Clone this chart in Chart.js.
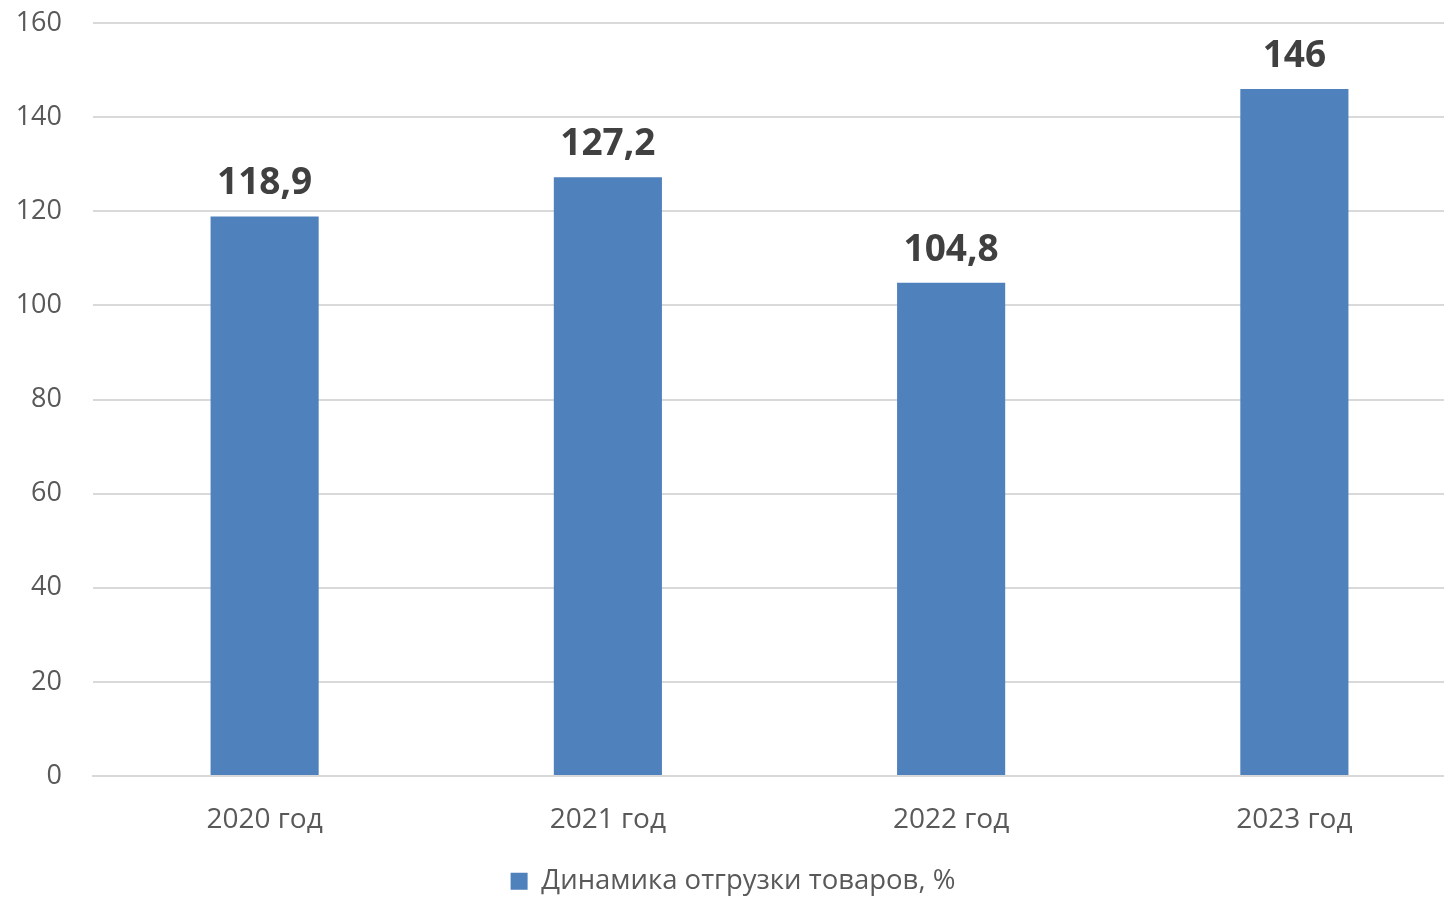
<!DOCTYPE html>
<html>
<head>
<meta charset="utf-8">
<script src="https://cdn.jsdelivr.net/npm/chart.js@4"></script>
<style>
  html, body { margin: 0; padding: 0; background: #fff; overflow: hidden; }
  /* the original plot runs past the right and bottom edges, so the canvas is a bit larger than the window */
  #wrap { width: 1466px; height: 910px; }
</style>
</head>
<body>
<div id="wrap"><canvas id="chart"></canvas></div>
<script>
// data
const categories = ["2020 год", "2021 год", "2022 год", "2023 год"];
const shipmentValues = [118.9, 127.2, 104.8, 146];
const valueLabels = ["118,9", "127,2", "104,8", "146"];
const seriesName = "Динамика отгрузки товаров, %";

const fontName = "'Open Sans', 'Noto Sans', sans-serif";

// bold numbers above each bar
const barLabels = {
  id: "barLabels",
  afterDatasetsDraw(chart) {
    const ctx = chart.ctx;
    const meta = chart.getDatasetMeta(0);
    ctx.save();
    ctx.font = "bold 37px " + fontName;
    ctx.fillStyle = "#404040";
    ctx.textAlign = "center";
    ctx.textBaseline = "bottom";
    meta.data.forEach((bar, i) => {
      ctx.fillText(valueLabels[i], bar.x, bar.y - 14);
    });
    ctx.restore();
  }
};

const ctx = document.getElementById("chart").getContext("2d");
new Chart(ctx, {
  type: "bar",
  data: {
    labels: categories,
    datasets: [{
      label: seriesName,
      data: shipmentValues,
      backgroundColor: "#4F81BD",
      barPercentage: 0.63,
      categoryPercentage: 0.5
    }]
  },
  options: {
    responsive: true,
    maintainAspectRatio: false,
    animation: false,
    layout: { padding: { top: 23, right: 0, bottom: 5, left: 0 } },
    plugins: {
      tooltip: { enabled: false },
      legend: {
        position: "bottom",
        labels: {
          color: "#595959",
          font: { family: fontName, size: 27.5 },
          boxWidth: 17,
          boxHeight: 17,
          padding: 5
        }
      }
    },
    scales: {
      x: {
        afterFit(scale) { scale.height = 86.5; },
        grid: { display: false },
        border: { color: "#D9D9D9", width: 2 },
        ticks: {
          color: "#595959",
          font: { family: fontName, size: 28 },
          padding: 19
        }
      },
      y: {
        min: 0,
        max: 160,
        afterFit(scale) {
          scale.width = 93;
          scale.paddingTop = 0;
          scale.paddingBottom = 0;
        },
        grid: { color: "#D9D9D9", lineWidth: 2, drawTicks: false },
        border: { display: false },
        ticks: {
          stepSize: 20,
          color: "#595959",
          font: { family: fontName, size: 27 },
          padding: 31
        }
      }
    }
  },
  plugins: [barLabels]
});
</script>
</body>
</html>
